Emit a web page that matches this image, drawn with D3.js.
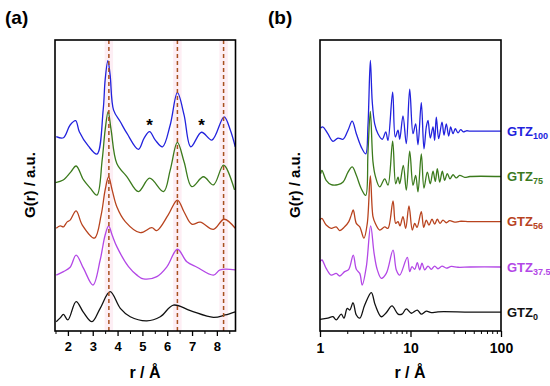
<!DOCTYPE html>
<html>
<head>
<meta charset="utf-8">
<script src="https://cdn.jsdelivr.net/npm/d3@7"></script>
<style>
  body { margin: 0; background: #fff; }
  text { font-family: Arial, "Liberation Sans", sans-serif; font-weight: bold; }
</style>
</head>
<body>
<div id="chart"></div>
<script>
// sample names and colours
const samples = ["GTZ100", "GTZ75", "GTZ56", "GTZ37.5", "GTZ0"];
const subs = ["100", "75", "56", "37.5", "0"];
const colors = ["#2222dd", "#3b7a1c", "#b8431e", "#b347e6", "#111111"];

// panel (a): G(r), stacked, r in Å
const a100 = [[1.53,6.68],[1.82,6.64],[2.09,7.08],[2.31,7.23],[2.46,6.85],[2.82,6.36],[3.17,6.08],[3.42,7.59],[3.50,8.63],[3.61,9.29],[3.70,8.80],[3.84,7.59],[4.11,7.19],[4.38,6.79],[4.84,6.24],[5.07,6.63],[5.29,6.85],[5.52,6.56],[5.81,6.33],[6.12,7.08],[6.41,8.19],[6.68,7.42],[6.95,6.33],[7.38,6.83],[7.80,6.56],[8.29,7.36],[8.54,6.91],[8.74,6.33]];
const a75 = [[1.50,5.10],[1.81,5.19],[2.12,5.47],[2.33,5.67],[2.63,5.19],[2.90,4.91],[3.17,4.67],[3.38,5.88],[3.50,6.91],[3.62,7.54],[3.74,6.91],[3.97,5.76],[4.38,5.30],[4.84,4.79],[5.29,5.25],[5.85,4.79],[6.12,5.53],[6.41,6.48],[6.68,5.81],[6.99,4.96],[7.46,5.30],[7.86,5.02],[8.27,5.70],[8.71,4.85]];
const a56 = [[1.53,3.53],[1.69,3.61],[1.82,3.58],[1.97,3.75],[2.09,3.81],[2.33,4.13],[2.58,3.64],[3.07,3.19],[3.34,3.99],[3.50,4.85],[3.64,5.30],[3.78,4.85],[3.97,4.27],[4.31,3.76],[4.91,3.38],[5.38,3.55],[5.58,3.45],[6.04,3.99],[6.41,4.50],[6.68,4.09],[6.99,3.67],[7.33,3.74],[7.86,3.49],[8.29,3.84],[8.74,3.53]];
const a375 = [[1.53,1.92],[1.82,2.04],[2.09,2.19],[2.33,2.61],[2.63,2.15],[3.01,1.58],[3.30,2.44],[3.50,3.30],[3.64,3.61],[3.78,3.30],[3.97,2.90],[4.44,2.21],[4.78,1.92],[5.04,1.79],[5.58,1.87],[5.99,2.21],[6.41,2.81],[6.79,2.38],[7.20,2.19],[7.86,1.92],[8.13,2.10],[8.74,2.10]];
const a0 = [[1.53,0.32],[1.69,0.45],[1.82,0.57],[2.00,0.38],[2.33,1.01],[2.62,0.65],[2.97,0.32],[3.30,0.78],[3.70,1.35],[4.11,0.78],[4.51,0.49],[5.18,0.35],[5.72,0.49],[6.25,0.89],[6.93,0.70],[7.86,0.47],[8.33,0.55],[8.74,0.66]];
const aSeries = [a100, a75, a56, a375, a0];

// marked positions in (a)
const peakLines = [3.65, 6.41, 8.27];
const stars = [[5.29, 6.85], [7.38, 6.83]];

// panel (b): G(r) on log r
const b100 = [[1.02,6.98],[1.08,7.01],[1.22,6.78],[1.39,6.52],[1.58,6.63],[1.80,6.59],[2.04,6.90],[2.27,7.21],[2.52,6.78],[2.86,6.32],[3.20,6.09],[3.39,7.07],[3.60,9.30],[3.78,7.87],[4.02,7.12],[4.37,6.78],[4.88,6.59],[5.32,6.84],[5.64,6.55],[6.35,8.21],[6.79,6.67],[7.28,6.90],[7.60,6.59],[8.26,7.39],[8.99,6.44],[9.80,8.31],[10.66,6.78],[11.41,7.12],[12.10,6.40],[13.16,7.85],[14.09,6.26],[14.95,7.01],[15.61,7.24],[16.55,6.63],[17.73,7.01],[18.50,6.55],[19.28,7.35],[20.49,6.61],[22.29,7.18],[23.46,6.73],[24.88,7.12],[26.43,6.70],[27.81,7.01],[29.50,6.78],[31.27,6.95],[33.49,6.81],[35.89,6.92],[38.31,6.84],[41.38,6.88],[45.41,6.87],[100,6.87]];
const b75 = [[1.02,5.41],[1.05,5.52],[1.17,5.18],[1.33,5.03],[1.58,5.03],[1.80,5.12],[2.04,5.46],[2.27,5.64],[2.52,5.35],[2.86,4.89],[3.20,4.66],[3.39,6.15],[3.60,7.55],[3.85,5.81],[4.08,5.33],[4.57,4.95],[5.19,5.23],[5.64,5.01],[6.35,6.52],[6.86,5.06],[7.28,5.29],[7.60,5.06],[8.33,5.69],[8.99,4.84],[9.80,6.18],[10.66,5.01],[11.41,5.35],[12.10,4.78],[13.16,6.09],[14.09,4.91],[15.34,5.46],[16.55,5.06],[17.73,5.49],[18.80,5.14],[19.78,5.58],[21.02,5.12],[22.46,5.49],[23.87,5.18],[25.51,5.41],[27.31,5.23],[29.50,5.37],[32.07,5.26],[34.96,5.35],[39.70,5.28],[45.41,5.31],[100,5.31]];
const b56 = [[1.00,3.81],[1.05,3.87],[1.17,3.64],[1.33,3.53],[1.51,3.58],[1.65,3.45],[1.87,3.58],[2.08,3.76],[2.22,3.99],[2.33,4.16],[2.52,3.70],[2.75,3.58],[3.06,3.19],[3.33,3.70],[3.60,5.33],[3.85,3.93],[4.08,3.70],[4.57,3.47],[5.19,3.58],[5.64,3.53],[6.41,4.47],[6.86,3.70],[7.28,3.76],[7.65,3.61],[8.26,3.93],[8.85,3.53],[9.62,4.30],[10.47,3.47],[11.13,3.70],[11.80,3.56],[13.16,4.10],[13.99,3.56],[14.95,3.81],[16.00,3.64],[17.29,3.84],[18.50,3.67],[19.78,3.84],[21.18,3.70],[22.86,3.81],[24.88,3.72],[27.10,3.79],[30.77,3.74],[34.96,3.77],[45.41,3.76],[100,3.76]];
const b375 = [[1.00,2.38],[1.05,2.44],[1.17,2.15],[1.33,1.92],[1.51,1.98],[1.65,1.89],[1.87,2.04],[2.08,2.12],[2.33,2.61],[2.52,2.12],[2.75,1.98],[2.93,1.58],[3.25,2.21],[3.63,3.61],[3.96,2.67],[4.30,2.10],[4.76,1.81],[5.40,1.98],[6.41,2.78],[6.97,2.10],[7.60,1.92],[9.22,2.53],[9.80,2.04],[10.39,2.21],[11.13,2.12],[11.89,2.35],[12.64,2.10],[13.40,2.33],[14.35,2.10],[15.61,2.23],[16.98,2.12],[18.50,2.23],[20.13,2.14],[22.29,2.23],[24.88,2.16],[28.23,2.22],[33.49,2.19],[45.41,2.20],[100,2.20]];
const b0 = [[1.00,0.40],[1.22,0.44],[1.39,0.49],[1.51,0.38],[1.72,0.58],[1.84,0.44],[2.00,0.78],[2.13,0.72],[2.32,0.97],[2.52,0.55],[2.75,0.44],[3.12,0.89],[3.69,1.32],[4.08,0.89],[4.76,0.49],[5.40,0.63],[6.25,0.86],[7.28,0.58],[8.05,0.58],[8.99,0.76],[10.21,0.61],[11.89,0.72],[13.16,0.58],[14.95,0.68],[16.98,0.63],[20.13,0.66],[45.41,0.65],[100,0.65]];
const bSeries = [b100, b75, b56, b375, b0];

const W = 550, H = 386;
const plotTop = 40, plotBottom = 331;

const svg = d3.select("#chart").append("svg")
    .attr("width", W)
    .attr("height", H);

const y = d3.scaleLinear().domain([0, 10]).range([plotBottom, plotTop]);

// ---------- panel (a)
const xa = d3.scaleLinear().domain([1.48, 8.75]).range([55, 235.5]);

const ga = svg.append("g");

// pink bands + dashed lines
ga.selectAll(".band")
    .data(peakLines)
    .enter().append("rect")
    .attr("x", d => xa(d - 0.17))
    .attr("y", plotTop)
    .attr("width", d => xa(d + 0.17) - xa(d - 0.17))
    .attr("height", plotBottom - plotTop)
    .attr("fill", "#fdeef4");

const lineA = d3.line()
    .x(d => xa(d[0]))
    .y(d => y(d[1]))
    .curve(d3.curveCatmullRom.alpha(0.5));

ga.selectAll(".ca")
    .data(aSeries)
    .enter().append("path")
    .attr("d", lineA)
    .attr("fill", "none")
    .attr("stroke", (d, i) => colors[i])
    .attr("stroke-width", 1.3);

ga.selectAll(".dl")
    .data(peakLines)
    .enter().append("line")
    .attr("x1", d => xa(d))
    .attr("x2", d => xa(d))
    .attr("y1", plotTop)
    .attr("y2", plotBottom)
    .attr("stroke", "#a8501f")
    .attr("stroke-width", 1.5)
    .attr("stroke-dasharray", "4,3");

ga.selectAll(".star")
    .data(stars)
    .enter().append("text")
    .attr("x", d => xa(d[0]))
    .attr("y", d => y(d[1]) - 1)
    .attr("text-anchor", "middle")
    .style("font-size", "17px")
    .text("*");

// axis a
ga.append("g")
    .attr("transform", "translate(0," + plotBottom + ")")
    .call(d3.axisBottom(xa).tickValues([2, 3, 4, 5, 6, 7, 8]).tickSize(5).tickFormat(d3.format("d")))
    .call(g => g.select(".domain").remove())
    .call(g => g.selectAll("line").attr("stroke-width", 1.3))
    .call(g => g.selectAll("text").attr("dy", "0.95em").style("font-size", "13px").style("font-weight", "bold").style("font-family", "Arial, 'Liberation Sans', sans-serif"));

ga.append("g")
    .attr("transform", "translate(0," + plotBottom + ")")
    .call(d3.axisBottom(xa).tickValues([1.5, 2.5, 3.5, 4.5, 5.5, 6.5, 7.5, 8.5]).tickSize(3).tickFormat(""))
    .call(g => g.select(".domain").remove());

ga.append("rect")
    .attr("x", 55).attr("y", plotTop)
    .attr("width", 235.5 - 55).attr("height", plotBottom - plotTop)
    .attr("fill", "none").attr("stroke", "#000").attr("stroke-width", 1.6);

// ---------- panel (b)
const xb = d3.scaleLog().domain([1, 100]).range([320, 501]);

const gb = svg.append("g");

const lineB = d3.line()
    .x(d => xb(d[0]))
    .y(d => y(d[1]))
    .curve(d3.curveCatmullRom.alpha(0.5));

gb.selectAll(".cb")
    .data(bSeries)
    .enter().append("path")
    .attr("d", lineB)
    .attr("fill", "none")
    .attr("stroke", (d, i) => colors[i])
    .attr("stroke-width", 1.3);

gb.append("g")
    .attr("transform", "translate(0," + plotBottom + ")")
    .call(d3.axisBottom(xb).tickValues([1, 10, 100]).tickSize(6).tickFormat(d3.format("d")))
    .call(g => g.select(".domain").remove())
    .call(g => g.selectAll("line").attr("stroke-width", 1.3))
    .call(g => g.selectAll("text").attr("dy", "0.95em").style("font-size", "14px").style("font-weight", "bold").style("font-family", "Arial, 'Liberation Sans', sans-serif"));

const minorB = [2, 3, 4, 5, 6, 7, 8, 9, 20, 30, 40, 50, 60, 70, 80, 90];
gb.append("g")
    .attr("transform", "translate(0," + plotBottom + ")")
    .call(d3.axisBottom(xb).tickValues(minorB).tickSize(3).tickFormat(""))
    .call(g => g.select(".domain").remove());

gb.append("rect")
    .attr("x", 320).attr("y", plotTop)
    .attr("width", 501 - 320).attr("height", plotBottom - plotTop)
    .attr("fill", "none").attr("stroke", "#000").attr("stroke-width", 1.6);

// sample labels
const lab = gb.selectAll(".lab")
    .data(bSeries)
    .enter().append("text")
    .attr("x", 507)
    .attr("y", d => y(d[d.length - 1][1]))
    .attr("dy", "0.35em")
    .attr("fill", (d, i) => colors[i])
    .style("font-size", "13px");
lab.append("tspan").text("GTZ");
lab.append("tspan")
    .attr("dy", "0.35em")
    .style("font-size", "9px")
    .text((d, i) => subs[i]);

// ---------- titles and axis labels
svg.append("text").attr("x", 5).attr("y", 24).style("font-size", "19px").text("(a)");
svg.append("text").attr("x", 268).attr("y", 24).style("font-size", "19px").text("(b)");

[[35, 185], [300, 185]].forEach(p => {
    svg.append("text")
        .attr("transform", "translate(" + p[0] + "," + p[1] + ")rotate(-90)")
        .attr("text-anchor", "middle")
        .style("font-size", "15px")
        .text("G(r) / a.u.");
});

svg.append("text").attr("x", 145).attr("y", 378).attr("text-anchor", "middle").style("font-size", "16px").text("r / Å");
svg.append("text").attr("x", 410).attr("y", 378).attr("text-anchor", "middle").style("font-size", "16px").text("r / Å");
</script>
</body>
</html>
